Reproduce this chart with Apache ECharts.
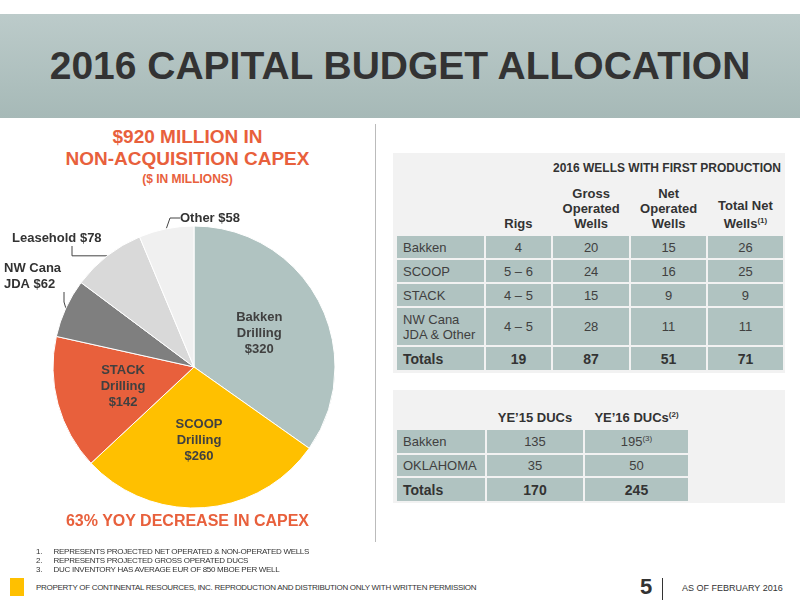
<!DOCTYPE html>
<html><head><meta charset="utf-8">
<script src="https://cdn.jsdelivr.net/npm/echarts@6/dist/echarts.min.js"></script>
<style>
body{margin:0;width:800px;height:600px;position:relative;font-family:"Liberation Sans",Arial,sans-serif;background:#fff;overflow:hidden}
.abs{position:absolute}
#head{left:0;top:14px;width:800px;height:104px;background:linear-gradient(#bccbca,#a6b9b7)}
#head div{width:800px;text-align:center;font-weight:bold;font-size:39px;color:#333;line-height:104px}
table{border-collapse:separate;border-spacing:2px;font-size:13px;color:#404040}
td{background:#b0c3c1;text-align:center;padding:0}
td.l{text-align:left;padding-left:6px}
th{font-weight:bold;color:#333;vertical-align:bottom;font-size:13px;line-height:15px;padding-bottom:3px}
tr.t td{font-weight:bold;font-size:14px;color:#333}
sup{font-size:8px}
.box{background:#f2f2f2}
.foot{font-size:8px;color:#333;letter-spacing:-0.3px}
</style></head><body>
<div id="head" class="abs"><div>2016 CAPITAL BUDGET ALLOCATION</div></div>
<div class="abs" style="left:375px;top:124px;width:1px;height:418px;background:#bbb"></div>
<div class="abs" style="left:0;top:126px;width:375px;text-align:center;color:#e8603c;font-weight:bold;font-size:19px;line-height:22px">$920 MILLION IN<br>NON-ACQUISITION CAPEX<div style="font-size:12px;line-height:18px">($ IN MILLIONS)</div></div>
<div id="pie" class="abs" style="left:0;top:190px;width:375px;height:330px"></div>
<div class="abs" style="left:0;top:512px;width:375px;text-align:center;color:#e8603c;font-weight:bold;font-size:16px">63% YOY DECREASE IN CAPEX</div>

<div class="abs box" style="left:393px;top:153px;width:392px;height:220px">
<div style="position:absolute;left:160px;top:8px;font-weight:bold;font-size:12px;color:#333">2016 WELLS WITH FIRST PRODUCTION</div>
<table id="t1" style="position:absolute;left:2px;top:30px"></table></div>
<div class="abs box" style="left:393px;top:390px;width:392px;height:113px">
<table id="t2" style="position:absolute;left:2px;top:14px"></table></div>

<div class="abs foot" style="left:36px;top:547px;line-height:9px">1.&nbsp;&nbsp;&nbsp;&nbsp;&nbsp;&nbsp;REPRESENTS PROJECTED NET OPERATED &amp; NON-OPERATED WELLS<br>2.&nbsp;&nbsp;&nbsp;&nbsp;&nbsp;&nbsp;REPRESENTS PROJECTED GROSS OPERATED DUCS<br>3.&nbsp;&nbsp;&nbsp;&nbsp;&nbsp;&nbsp;DUC INVENTORY HAS AVERAGE EUR OF 850 MBOE PER WELL</div>
<div class="abs" style="left:10px;top:578px;width:14px;height:18px;background:#ffc000"></div>
<div class="abs foot" style="left:36px;top:583px">PROPERTY OF CONTINENTAL RESOURCES, INC. REPRODUCTION AND DISTRIBUTION ONLY WITH WRITTEN PERMISSION</div>
<div class="abs" style="left:640px;top:574px;font-size:22px;font-weight:bold;color:#333">5</div>
<div class="abs" style="left:662px;top:578px;width:1px;height:22px;background:#333"></div>
<div class="abs" style="left:682px;top:583px;font-size:9px;color:#333">AS OF FEBRUARY 2016</div>
<script>
var pieNames = ['Bakken\nDrilling', 'SCOOP\nDrilling', 'STACK\nDrilling', 'NW Cana\nJDA', 'Leasehold', 'Other'];
var pieValues = [320, 260, 142, 62, 78, 58];
var pieColors = ['#b0c3c1', '#ffc000', '#e8603c', '#7f7f7f', '#d9d9d9', '#f0f0f0'];

var t1Head = ['', 'Rigs', 'Gross<br>Operated<br>Wells', 'Net<br>Operated<br>Wells', 'Total Net<br>Wells<sup>(1)</sup>'];
var t1Rows = [
    ['Bakken', '4', '20', '15', '26'],
    ['SCOOP', '5 – 6', '24', '16', '25'],
    ['STACK', '4 – 5', '15', '9', '9'],
    ['NW Cana<br>JDA &amp; Other', '4 – 5', '28', '11', '11']
];
var t1Totals = ['Totals', '19', '87', '51', '71'];
var t2Head = ['', 'YE’15 DUCs', 'YE’16 DUCs<sup>(2)</sup>'];
var t2Rows = [['Bakken', '135', '195<sup>(3)</sup>'], ['OKLAHOMA', '35', '50']];
var t2Totals = ['Totals', '170', '245'];

function buildTable(id, head, rows, totals, widths, heights) {
    var h = '<tr>' + head.map(function (c, i) { return '<th style="width:' + widths[i] + 'px">' + c + '</th>'; }).join('') + '</tr>';
    rows.forEach(function (r, k) {
        h += '<tr style="height:' + heights[k] + 'px">' + r.map(function (c, i) { return '<td' + (i ? '' : ' class="l"') + '>' + c + '</td>'; }).join('') + '</tr>';
    });
    h += '<tr class="t" style="height:23px">' + totals.map(function (c, i) { return '<td' + (i ? '' : ' class="l"') + '>' + c + '</td>'; }).join('') + '</tr>';
    document.getElementById(id).innerHTML = h;
}
buildTable('t1', t1Head, t1Rows, t1Totals, [86, 64, 75, 73, 74], [22, 22, 22, 37]);
buildTable('t2', t2Head, t2Rows, t2Totals, [86, 94, 101], [23, 21]);

var labelPos = [null, null, null, [4, 70], [12, 40], [180, 20]];
var outsideText = [null, null, null, 'NW Cana\nJDA $62', 'Leasehold $78', 'Other $58'];
var myChart = echarts.init(document.getElementById('pie'));
myChart.setOption({
    animation: false,
    series: [{
        type: 'pie',
        center: [194, 177],
        radius: 141,
        startAngle: 90,
        clockwise: true,
        data: pieNames.map(function (n, i) {
            var d = { name: n, value: pieValues[i], itemStyle: { color: pieColors[i], borderColor: '#fff', borderWidth: 1 } };
            if (i < 3) {
                d.label = { position: 'inside', formatter: '{b}\n${c}', color: '#404040', fontWeight: 'bold', fontSize: 13, lineHeight: 16 };
                d.labelLine = { show: false };
            } else {
                d.label = { position: 'outside', formatter: outsideText[i], color: '#333', fontWeight: 'bold', fontSize: 13, lineHeight: 16, align: 'left', overflow: 'none', width: 120 };
                d.labelLine = { show: true, length: 10, length2: 10, lineStyle: { color: '#444' } };
            }
            return d;
        }),
        labelLayout: function (p) {
            var pos = labelPos[p.dataIndex];
            if (!pos) return {};
            return { x: pos[0], y: pos[1], align: 'left', verticalAlign: 'top' };
        }
    }]
});
</script>
</body></html>
